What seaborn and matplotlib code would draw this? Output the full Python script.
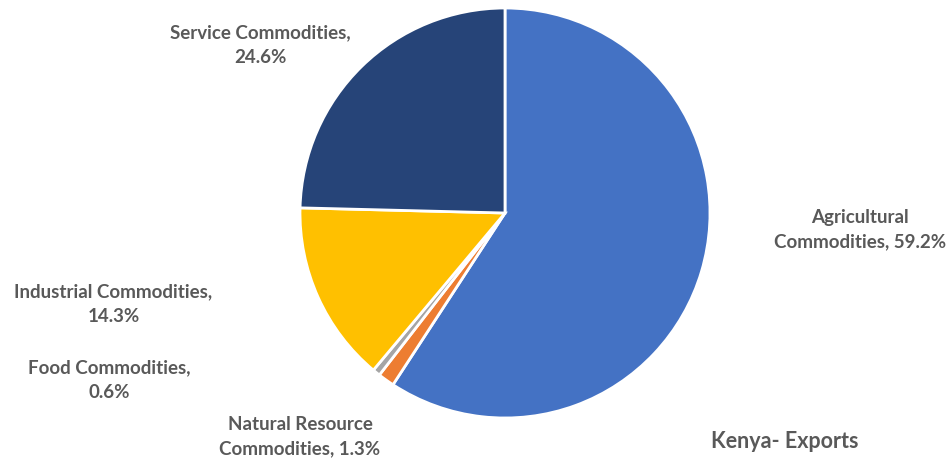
import matplotlib
matplotlib.use("Agg")
import matplotlib.pyplot as plt
import seaborn as sns

sns.set_theme(style="white")
plt.rcParams["font.family"] = ["Lato", "DejaVu Sans"]

categories = ["Agricultural Commodities", "Natural Resource Commodities",
              "Food Commodities", "Industrial Commodities", "Service Commodities"]
shares = [59.2, 1.3, 0.6, 14.3, 24.6]
colors = ["#4472C4", "#ED7D31", "#A5A5A5", "#FFC000", "#264478"]
label_text = ["Agricultural\nCommodities, 59.2%",
              "Natural Resource\nCommodities, 1.3%",
              "Food Commodities,\n0.6%",
              "Industrial Commodities,\n14.3%",
              "Service Commodities,\n24.6%"]
label_pos = [(1.73, -0.08), (-1.0, -1.09), (-1.93, -0.815), (-1.91, -0.445), (-1.195, 0.82)]
title = "Kenya- Exports"

fig = plt.figure(figsize=(9.5, 4.58), dpi=100)
ax = fig.add_axes([300 / 950, 40 / 458, 410 / 950, 410 / 458])
ax.pie(shares, colors=colors, startangle=90, counterclock=False,
       wedgeprops=dict(edgecolor="white", linewidth=2))
ax.set_xlim(-1.0, 1.0)
ax.set_ylim(-1.0, 1.0)
ax.set_aspect("equal")
ax.axis("off")

txt_color = "#595959"
for txt, (x, y) in zip(label_text, label_pos):
    ax.text(x, y, txt, ha="center", va="center", fontsize=13.5, fontweight="bold",
            color=txt_color, linespacing=1.55, clip_on=False)

ax.text(1.366, -1.117, title, ha="center", va="center", fontsize=15.5,
        fontweight="bold", color=txt_color, clip_on=False)

fig.savefig("out.png", dpi=100, facecolor="white")
